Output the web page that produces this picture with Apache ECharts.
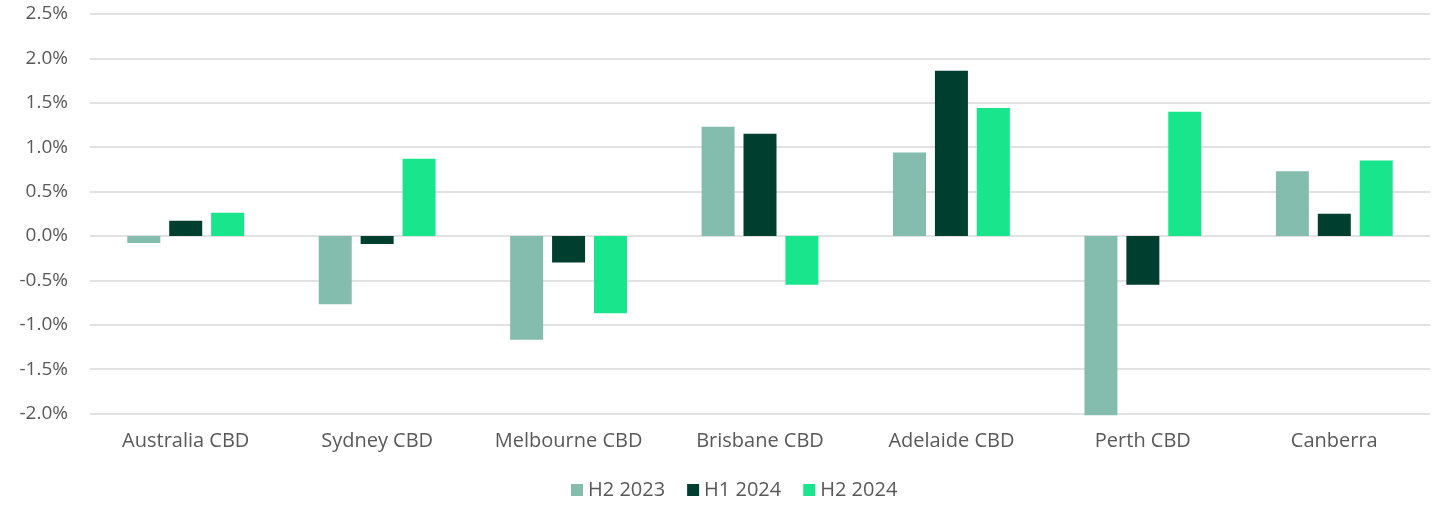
<!DOCTYPE html>
<html>
<head>
<meta charset="utf-8">
<script src="https://cdn.jsdelivr.net/npm/echarts@6/dist/echarts.min.js"></script>
<style>html,body{margin:0;padding:0;background:#fff;}#chart{width:1438px;height:505px;}</style>
</head>
<body>
<div id="chart"></div>
<script>
const categories = ['Australia CBD', 'Sydney CBD', 'Melbourne CBD', 'Brisbane CBD', 'Adelaide CBD', 'Perth CBD', 'Canberra'];
const seriesNames = ['H2 2023', 'H1 2024', 'H2 2024'];
const h2_2023 = [-0.08, -0.77, -1.17, 1.23, 0.94, -2.02, 0.73];
const h1_2024 = [0.17, -0.09, -0.30, 1.15, 1.86, -0.55, 0.25];
const h2_2024 = [0.26, 0.87, -0.87, -0.55, 1.44, 1.40, 0.85];
const colors = ['#84BCAE', '#003F2F', '#19E68C'];
const yMin = -2.0, yMax = 2.5, yStep = 0.5;

const font = '"Open Sans", sans-serif';
const chart = echarts.init(document.getElementById('chart'));
const data = [h2_2023, h1_2024, h2_2024];
chart.setOption({
  animation: false,
  textStyle: { fontFamily: font },
  grid: { left: 90, right: 8, top: 14, bottom: 91.5, containLabel: false },
  legend: {
    data: seriesNames,
    bottom: 0,
    left: 566,
    itemWidth: 12, itemHeight: 12, itemGap: 22,
    icon: 'rect',
    textStyle: { color: '#595959', fontSize: 20, fontFamily: font }
  },
  xAxis: {
    type: 'category',
    data: categories,
    axisLine: { show: false },
    axisTick: { show: false },
    axisLabel: { color: '#595959', fontSize: 20, margin: 18, interval: 0, fontFamily: font }
  },
  yAxis: {
    type: 'value',
    min: yMin, max: yMax, interval: yStep,
    axisLine: { show: false },
    axisTick: { show: false },
    splitLine: { lineStyle: { color: '#D9D9D9', width: 1.5 } },
    axisLabel: { color: '#595959', fontSize: 19, margin: 22, fontFamily: font,
      formatter: v => v.toFixed(1) + '%' }
  },
  series: seriesNames.map((n, i) => ({
    name: n,
    type: 'bar',
    data: data[i],
    barWidth: 33,
    barGap: '27%',
    clip: false,
    itemStyle: { color: colors[i] }
  }))
});
</script>
</body>
</html>
